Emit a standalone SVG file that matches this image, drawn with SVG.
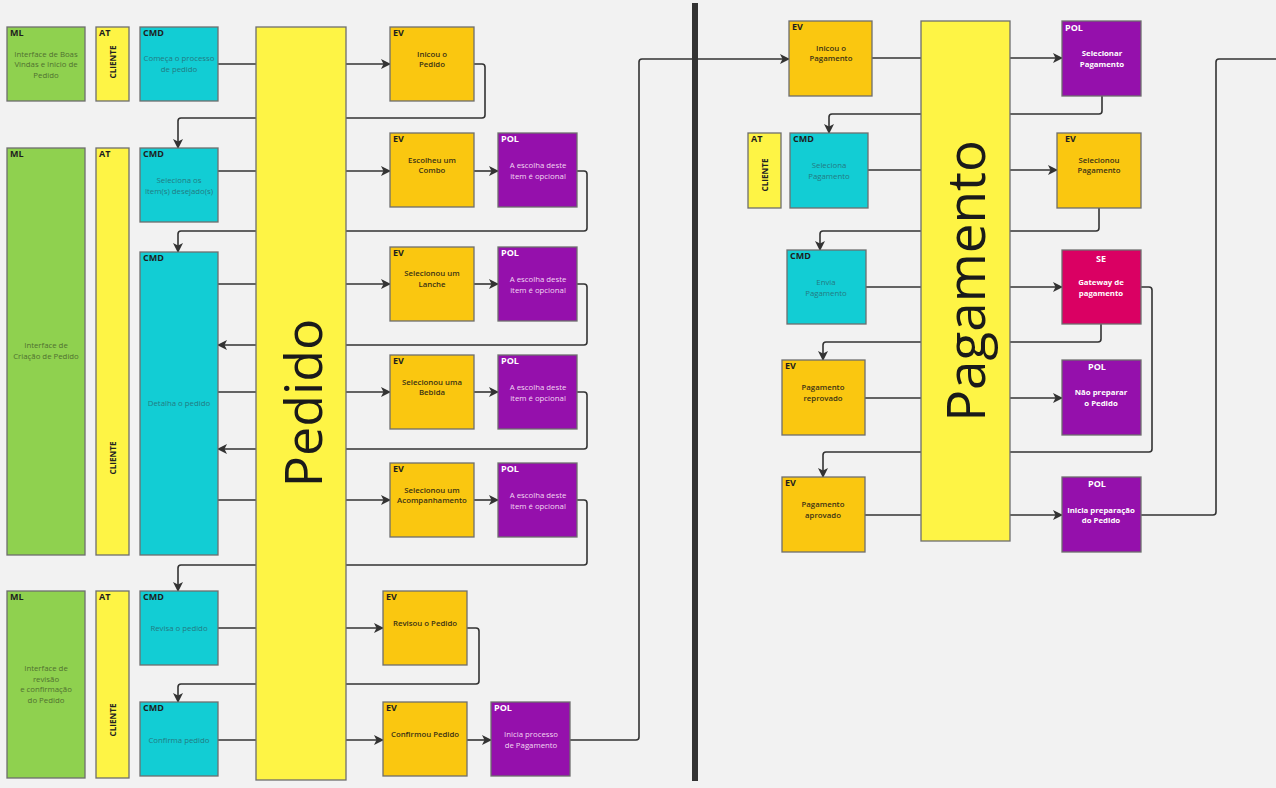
<svg xmlns="http://www.w3.org/2000/svg" width="1276" height="788" viewBox="0 0 1276 788">
<defs>
<marker id="ah" viewBox="0 0 10 10" refX="9" refY="5" markerWidth="10" markerHeight="10" orient="auto" markerUnits="userSpaceOnUse"><path d="M0,0 L10,5 L0,10 L2.5,5 z" fill="#333"/></marker>
<style>
.c{fill:none;stroke:#333;stroke-width:1.6}
.a{marker-end:url(#ah)}
.n{stroke:#6e6e6e;stroke-width:1.3}
.ml{fill:#8fd14f}.at{fill:#fef445}.cmd{fill:#12cdd4}.ev{fill:#fac710}.pol{fill:#9510ac}.se{fill:#da0063}
.lb{font-family:"Open Sans","DejaVu Sans",sans-serif;font-size:9px;font-weight:bold;fill:#1e1e1e}
.lw{fill:#ffffff}
.t{font-family:"Open Sans","DejaVu Sans",sans-serif;font-size:7.8px;text-anchor:middle}
.tml{fill:#4f7030}.tcmd{fill:#237a82}.tev{fill:#3a3214;font-weight:600}.tpol{fill:#f2d8f2}.tb{font-weight:bold;fill:#ffffff}
.cl{font-family:"Open Sans","DejaVu Sans",sans-serif;font-size:8.2px;font-weight:bold;fill:#222;text-anchor:middle}
.big{font-family:"Open Sans","DejaVu Sans",sans-serif;font-weight:400;fill:#1a1a1a;text-anchor:middle}
</style>
</defs>
<rect width="1276" height="788" fill="#f2f2f2"/>
<g id="connectors">
<path class="c a" d="M218,64 H390"/>
<path class="c a" d="M474,64 H482 Q485,64 485,67 V115 Q485,118 482,118 H181 Q178,118 178,121 V148"/>
<path class="c a" d="M218,171 H390"/>
<path class="c a" d="M474,171 H498"/>
<path class="c a" d="M577,171 H584 Q587,171 587,174 V228 Q587,231 584,231 H181 Q178,231 178,234 V252"/>
<path class="c a" d="M218,284 H390"/>
<path class="c a" d="M474,284 H498"/>
<path class="c a" d="M577,284 H584 Q587,284 587,287 V342 Q587,345 584,345 H218"/>
<path class="c a" d="M218,392 H390"/>
<path class="c a" d="M474,392 H498"/>
<path class="c a" d="M577,392 H584 Q587,392 587,395 V446 Q587,449 584,449 H218"/>
<path class="c a" d="M218,500 H390"/>
<path class="c a" d="M474,500 H498"/>
<path class="c a" d="M577,500 H584 Q587,500 587,503 V562 Q587,565 584,565 H181 Q178,565 178,568 V591"/>
<path class="c a" d="M218,628 H383"/>
<path class="c a" d="M467,628 H476 Q479,628 479,631 V681 Q479,684 476,684 H181 Q178,684 178,687 V702"/>
<path class="c a" d="M218,740 H383"/>
<path class="c a" d="M467,740 H491"/>
<path class="c a" d="M570,740 H636 Q639,740 639,737 V62 Q639,59 642,59 H789"/>
<path class="c a" d="M872,58 H1062"/>
<path class="c a" d="M1102,96 V111 Q1102,114 1099,114 H832 Q829,114 829,117 V133"/>
<path class="c a" d="M868,170 H1057"/>
<path class="c a" d="M1099,208 V228 Q1099,231 1096,231 H823 Q820,231 820,234 V250"/>
<path class="c a" d="M866,287 H1062"/>
<path class="c a" d="M1101,324 V339 Q1101,342 1098,342 H826 Q823,342 823,345 V360"/>
<path class="c a" d="M865,398 H1062"/>
<path class="c a" d="M1141,287 H1149 Q1152,287 1152,290 V449 Q1152,452 1149,452 H826 Q823,452 823,455 V477"/>
<path class="c a" d="M865,515 H1062"/>
<path class="c" d="M1141,515 H1213 Q1216,515 1216,512 V62 Q1216,59 1219,59 H1276"/>
</g>
<g id="divider"><rect x="692" y="3" width="6" height="778" fill="#333"/></g>

<g id="ml1"><rect class="n ml" x="7" y="27" width="78" height="74"/><text class="lb" x="10" y="36">ML</text>
<text class="t tml" x="46" y="57">Interface de Boas</text><text class="t tml" x="46" y="67">Vindas e Inicio de</text><text class="t tml" x="46" y="78">Pedido</text></g>
<g id="at1"><rect class="n at" x="96" y="27" width="33" height="74"/><text class="lb" x="99" y="36">AT</text>
<text class="cl" transform="translate(116,62) rotate(-90)">CLIENTE</text></g>
<g id="cmd1"><rect class="n cmd" x="140" y="27" width="78" height="74"/><text class="lb" x="143" y="36">CMD</text>
<text class="t tcmd" x="179" y="61">Começa o processo</text><text class="t tcmd" x="179" y="72">de pedido</text></g>

<g id="pedido"><rect class="n at" x="256" y="27" width="90" height="753"/>
<text class="big" font-size="52" transform="translate(322,403) rotate(-90)">Pedido</text></g>

<g id="ev1"><rect class="n ev" x="390" y="27" width="84" height="74"/><text class="lb" x="393" y="36">EV</text>
<text class="t tev" x="432" y="57">Inicou o</text><text class="t tev" x="432" y="67">Pedido</text></g>

<g id="ml2"><rect class="n ml" x="7" y="148" width="78" height="407"/><text class="lb" x="10" y="157">ML</text>
<text class="t tml" x="46" y="348">Interface de</text><text class="t tml" x="46" y="359">Criação de Pedido</text></g>
<g id="at2"><rect class="n at" x="96" y="148" width="33" height="407"/><text class="lb" x="99" y="157">AT</text>
<text class="cl" transform="translate(116,458) rotate(-90)">CLIENTE</text></g>
<g id="cmd2"><rect class="n cmd" x="140" y="148" width="78" height="74"/><text class="lb" x="143" y="157">CMD</text>
<text class="t tcmd" x="179" y="183">Seleciona os</text><text class="t tcmd" x="179" y="194">Item(s) desejado(s)</text></g>
<g id="ev2"><rect class="n ev" x="390" y="133" width="84" height="74"/><text class="lb" x="393" y="142">EV</text>
<text class="t tev" x="432" y="163">Escolheu um</text><text class="t tev" x="432" y="173">Combo</text></g>
<g id="pol1"><rect class="n pol" x="498" y="133" width="79" height="74"/><text class="lb lw" x="501" y="142">POL</text>
<text class="t tpol" x="538" y="168">A escolha deste</text><text class="t tpol" x="538" y="179">item é opcional</text></g>

<g id="cmd3"><rect class="n cmd" x="140" y="252" width="78" height="303"/><text class="lb" x="143" y="261">CMD</text>
<text class="t tcmd" x="179" y="406">Detalha o pedido</text></g>
<g id="ev3"><rect class="n ev" x="390" y="247" width="84" height="74"/><text class="lb" x="393" y="256">EV</text>
<text class="t tev" x="432" y="276">Selecionou um</text><text class="t tev" x="432" y="287">Lanche</text></g>
<g id="pol2"><rect class="n pol" x="498" y="247" width="79" height="74"/><text class="lb lw" x="501" y="256">POL</text>
<text class="t tpol" x="538" y="282">A escolha deste</text><text class="t tpol" x="538" y="293">item é opcional</text></g>
<g id="ev4"><rect class="n ev" x="390" y="355" width="84" height="74"/><text class="lb" x="393" y="364">EV</text>
<text class="t tev" x="432" y="385">Selecionou uma</text><text class="t tev" x="432" y="395">Bebida</text></g>
<g id="pol3"><rect class="n pol" x="498" y="355" width="79" height="74"/><text class="lb lw" x="501" y="364">POL</text>
<text class="t tpol" x="538" y="390">A escolha deste</text><text class="t tpol" x="538" y="401">item é opcional</text></g>
<g id="ev5"><rect class="n ev" x="390" y="463" width="84" height="74"/><text class="lb" x="393" y="472">EV</text>
<text class="t tev" x="432" y="493">Selecionou um</text><text class="t tev" x="432" y="503">Acompanhamento</text></g>
<g id="pol4"><rect class="n pol" x="498" y="463" width="79" height="74"/><text class="lb lw" x="501" y="472">POL</text>
<text class="t tpol" x="538" y="498">A escolha deste</text><text class="t tpol" x="538" y="509">item é opcional</text></g>

<g id="ml3"><rect class="n ml" x="7" y="591" width="78" height="187"/><text class="lb" x="10" y="600">ML</text>
<text class="t tml" x="46" y="671">Interface de</text><text class="t tml" x="46" y="682">revisão</text><text class="t tml" x="46" y="692">e confirmação</text><text class="t tml" x="46" y="703">do Pedido</text></g>
<g id="at3"><rect class="n at" x="96" y="591" width="33" height="187"/><text class="lb" x="99" y="600">AT</text>
<text class="cl" transform="translate(116,720) rotate(-90)">CLIENTE</text></g>
<g id="cmd4"><rect class="n cmd" x="140" y="591" width="78" height="74"/><text class="lb" x="143" y="600">CMD</text>
<text class="t tcmd" x="179" y="631">Revisa o pedido</text></g>
<g id="ev6"><rect class="n ev" x="383" y="591" width="84" height="74"/><text class="lb" x="386" y="600">EV</text>
<text class="t tev" x="425" y="626">Revisou o Pedido</text></g>
<g id="cmd5"><rect class="n cmd" x="140" y="702" width="78" height="74"/><text class="lb" x="143" y="711">CMD</text>
<text class="t tcmd" x="179" y="743">Confirma pedido</text></g>
<g id="ev7"><rect class="n ev" x="383" y="702" width="84" height="74"/><text class="lb" x="386" y="711">EV</text>
<text class="t tev" x="425" y="737">Confirmou Pedido</text></g>
<g id="pol5"><rect class="n pol" x="491" y="702" width="79" height="74"/><text class="lb lw" x="494" y="711">POL</text>
<text class="t tpol" x="531" y="737">Inicia processo</text><text class="t tpol" x="531" y="748">de Pagamento</text></g>

<g id="ev8"><rect class="n ev" x="789" y="21" width="83" height="75"/><text class="lb" x="792" y="30">EV</text>
<text class="t tev" x="831" y="51">Inicou o</text><text class="t tev" x="831" y="61">Pagamento</text></g>
<g id="pagamento"><rect class="n at" x="921" y="21" width="89" height="520"/>
<text class="big" font-size="53" transform="translate(985,281) rotate(-90)">Pagamento</text></g>
<g id="pol6"><rect class="n pol" x="1062" y="21" width="79" height="75"/><text class="lb lw" x="1065" y="31">POL</text>
<text class="t tb" x="1102" y="56">Selecionar</text><text class="t tb" x="1102" y="67">Pagamento</text></g>
<g id="at4"><rect class="n at" x="748" y="133" width="33" height="75"/><text class="lb" x="751" y="142">AT</text>
<text class="cl" transform="translate(768,175) rotate(-90)">CLIENTE</text></g>
<g id="cmd6"><rect class="n cmd" x="790" y="133" width="78" height="75"/><text class="lb" x="793" y="142">CMD</text>
<text class="t tcmd" x="829" y="168">Seleciona</text><text class="t tcmd" x="829" y="179">Pagamento</text></g>
<g id="ev9"><rect class="n ev" x="1057" y="133" width="84" height="75"/><text class="lb" x="1065" y="142">EV</text>
<text class="t tev" x="1099" y="163">Selecionou</text><text class="t tev" x="1099" y="173">Pagamento</text></g>
<g id="cmd7"><rect class="n cmd" x="787" y="250" width="79" height="74"/><text class="lb" x="790" y="259">CMD</text>
<text class="t tcmd" x="826" y="285">Envia</text><text class="t tcmd" x="826" y="296">Pagamento</text></g>
<g id="se1"><rect class="n se" x="1062" y="250" width="79" height="74"/><text class="lb lw" x="1101" y="262" text-anchor="middle">SE</text>
<text class="t tb" x="1101" y="285">Gateway de</text><text class="t tb" x="1101" y="296">pagamento</text></g>
<g id="ev10"><rect class="n ev" x="782" y="360" width="83" height="75"/><text class="lb" x="785" y="369">EV</text>
<text class="t tev" x="823" y="390">Pagamento</text><text class="t tev" x="823" y="401">reprovado</text></g>
<g id="pol7"><rect class="n pol" x="1062" y="360" width="79" height="75"/><text class="lb lw" x="1097" y="370" text-anchor="middle">POL</text>
<text class="t tb" x="1101" y="395">Não preparar</text><text class="t tb" x="1101" y="406">o Pedido</text></g>
<g id="ev11"><rect class="n ev" x="782" y="477" width="83" height="75"/><text class="lb" x="785" y="486">EV</text>
<text class="t tev" x="823" y="507">Pagamento</text><text class="t tev" x="823" y="518">aprovado</text></g>
<g id="pol8"><rect class="n pol" x="1062" y="477" width="79" height="75"/><text class="lb lw" x="1097" y="487" text-anchor="middle">POL</text>
<text class="t tb" x="1101" y="513">Inicia preparação</text><text class="t tb" x="1101" y="523">do Pedido</text></g>
</svg>
